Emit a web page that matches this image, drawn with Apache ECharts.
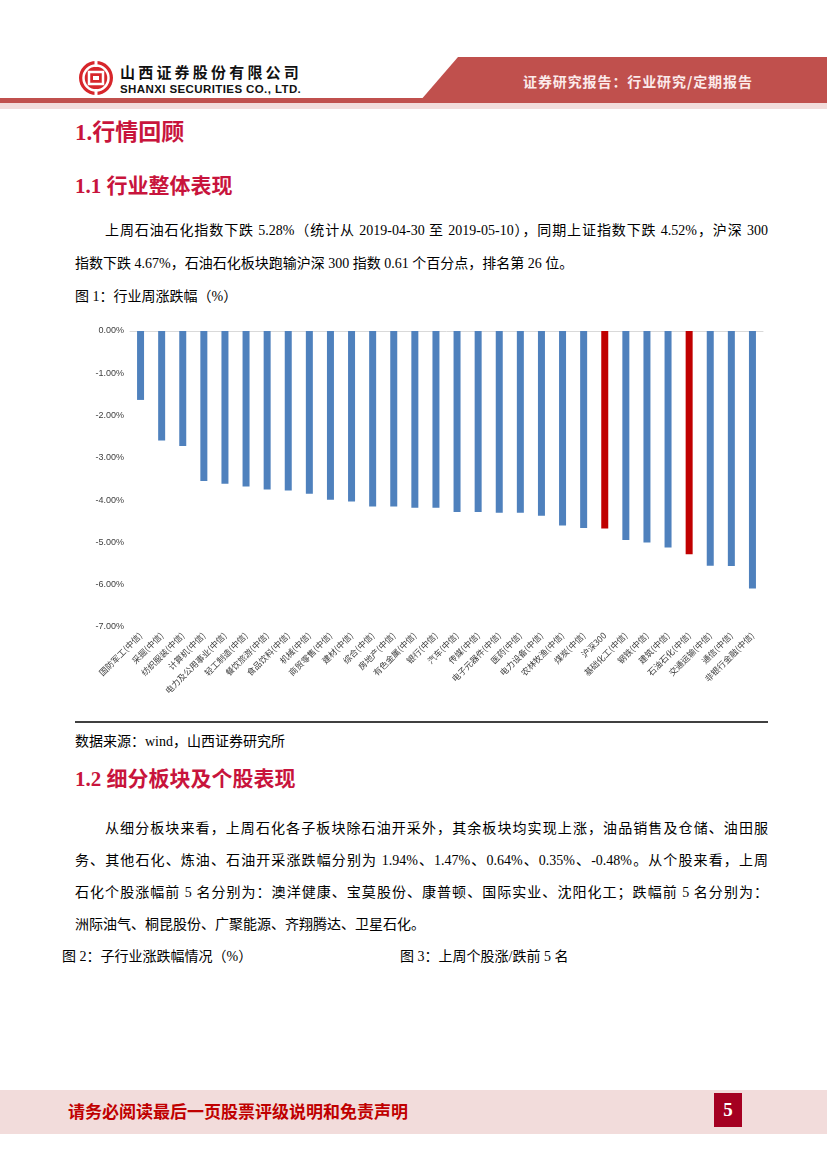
<!DOCTYPE html>
<html><head><meta charset="utf-8">
<script src="https://cdn.jsdelivr.net/npm/echarts@6.0.0/dist/echarts.min.js"></script>
<style>
body{margin:0;background:#fff;}
#page{position:relative;width:827px;height:1169px;overflow:hidden;font-family:"Liberation Serif","Noto Sans CJK SC",serif;color:#000;}
.abs{position:absolute;white-space:nowrap;line-height:1;}
.hd{font-weight:bold;font-size:21px;color:#c8143c;}
.h1{font-size:23px;}
.p{font-size:14px;}
.j{text-align:justify;text-align-last:justify;}
.cap{font-family:"Liberation Serif","Noto Sans CJK SC",sans-serif;font-size:14px;}
</style></head>
<body>
<div id="page">
  <!-- header -->
  <svg class="abs" style="left:78px;top:60px" width="36" height="36" viewBox="0 0 36 36">
    <circle cx="18" cy="18" r="17" fill="#d7262b"/>
    <circle cx="18" cy="18" r="12.5" fill="none" stroke="#fff" stroke-width="2.5"/>
    <rect x="16.5" y="0" width="3" height="7" fill="#fff"/>
    <rect x="16.5" y="29" width="3" height="7" fill="#fff"/>
    <rect x="11" y="12" width="14" height="12" fill="none" stroke="#fff" stroke-width="2.5"/>
    <rect x="15" y="16" width="6" height="4" fill="#fff"/>
  </svg>
  <div class="abs" style="left:120px;top:64px;font-family:'Noto Sans CJK SC';font-weight:bold;font-size:15px;letter-spacing:3.2px;color:#111;">山西证券股份有限公司</div>
  <div class="abs" style="left:120px;top:84px;font-family:'Liberation Sans';font-weight:bold;font-size:11.5px;color:#111;letter-spacing:0.4px;">SHANXI SECURITIES CO., LTD.</div>
  <div class="abs" style="left:420px;top:57px;width:407px;height:44px;background:#c0504d;clip-path:polygon(38px 0,100% 0,100% 100%,0 100%);"></div>
  <div class="abs" style="left:523px;top:74px;font-family:'Noto Sans CJK SC';font-weight:bold;font-size:14px;letter-spacing:0.9px;color:#fbeaea;">证券研究报告：行业研究/定期报告</div>
  <div class="abs" style="left:0;top:98px;width:827px;height:5px;background:#c0504d;"></div>
  <div class="abs" style="left:0;top:103px;width:827px;height:6px;background:#f2dcdb;"></div>

  <div class="abs hd h1" style="left:75px;top:121px;">1.行情回顾</div>
  <div class="abs hd" style="left:75px;top:176px;">1.1 行业整体表现</div>
  <div class="abs p j" style="left:105px;top:224px;width:663px;">上周石油石化指数下跌 5.28%（统计从 2019-04-30 至 2019-05-10），同期上证指数下跌 4.52%，沪深 300</div>
  <div class="abs p" style="left:75px;top:257px;">指数下跌 4.67%，石油石化板块跑输沪深 300 指数 0.61 个百分点，排名第 26 位。</div>
  <div class="abs cap" style="left:75px;top:290px;">图 1：行业周涨跌幅（%）</div>

  <div id="chart" class="abs" style="left:80px;top:315px;width:700px;height:395px;"></div>

  <div class="abs" style="left:75px;top:721px;width:693px;height:2px;background:#404040;"></div>
  <div class="abs cap" style="left:75px;top:735px;">数据来源：wind，山西证券研究所</div>
  <div class="abs hd" style="left:75px;top:769px;">1.2 细分板块及个股表现</div>
  <div class="abs p j" style="left:105px;top:822px;width:663px;">从细分板块来看，上周石化各子板块除石油开采外，其余板块均实现上涨，油品销售及仓储、油田服</div>
  <div class="abs p j" style="left:75px;top:854px;width:693px;">务、其他石化、炼油、石油开采涨跌幅分别为 1.94%、1.47%、0.64%、0.35%、-0.48%。从个股来看，上周</div>
  <div class="abs p j" style="left:75px;top:886px;width:693px;">石化个股涨幅前 5 名分别为：澳洋健康、宝莫股份、康普顿、国际实业、沈阳化工；跌幅前 5 名分别为：</div>
  <div class="abs p" style="left:75px;top:918px;">洲际油气、桐昆股份、广聚能源、齐翔腾达、卫星石化。</div>
  <div class="abs cap" style="left:62px;top:950px;">图 2：子行业涨跌幅情况（%）</div>
  <div class="abs cap" style="left:400px;top:950px;">图 3：上周个股涨/跌前 5 名</div>

  <!-- footer -->
  <div class="abs" style="left:0;top:1090px;width:827px;height:44px;background:#f2dcdb;"></div>
  <div class="abs" style="left:68px;top:1102px;font-family:'Noto Sans CJK SC';font-weight:bold;font-size:17px;color:#c00000;">请务必阅读最后一页股票评级说明和免责声明</div>
  <div class="abs" style="left:714px;top:1093px;width:28px;height:34px;background:#a50021;color:#fff;font-family:'Liberation Serif';font-weight:bold;font-size:19px;line-height:34px;text-align:center;">5</div>
</div>
<script>
const categories = ['国防军工(中信)','采掘(中信)','纺织服装(中信)','计算机(中信)','电力及公用事业(中信)','轻工制造(中信)','餐饮旅游(中信)','食品饮料(中信)','机械(中信)','商贸零售(中信)','建材(中信)','综合(中信)','房地产(中信)','有色金属(中信)','银行(中信)','汽车(中信)','传媒(中信)','电子元器件(中信)','医药(中信)','电力设备(中信)','农林牧渔(中信)','煤炭(中信)','沪深300','基础化工(中信)','钢铁(中信)','建筑(中信)','石油石化(中信)','交通运输(中信)','通信(中信)','非银行金融(中信)'];
const weeklyChange = [-1.63,-2.59,-2.72,-3.55,-3.61,-3.68,-3.75,-3.77,-3.85,-3.99,-4.03,-4.15,-4.15,-4.18,-4.18,-4.28,-4.28,-4.30,-4.30,-4.37,-4.60,-4.66,-4.67,-4.94,-5.00,-5.12,-5.28,-5.55,-5.56,-6.09];
const highlighted = ['沪深300','石油石化(中信)'];
const yTicks = {min:-7, max:0, interval:1};

const chart = echarts.init(document.getElementById('chart'));
chart.setOption({
  animation:false,
  grid:{left:50, right:17, top:16, bottom:83},
  xAxis:[{
    type:'category', data:categories, position:'bottom',
    axisLine:{show:false, onZero:false}, axisTick:{show:false},
    axisLabel:{rotate:45, interval:0, fontSize:8.5, color:'#404040', margin:7, fontFamily:'Noto Sans CJK SC'}
  },{
    type:'category', data:categories, position:'top',
    axisLine:{show:true, lineStyle:{color:'#d9d9d9', width:1}}, axisTick:{show:false}, axisLabel:{show:false}
  }],
  yAxis:{
    type:'value', min:yTicks.min, max:yTicks.max, interval:yTicks.interval,
    axisLine:{show:false}, axisTick:{show:false}, splitLine:{show:false},
    axisLabel:{formatter:v=>v.toFixed(2)+'%', fontSize:9, color:'#404040', margin:6, fontFamily:'Liberation Sans'}
  },
  series:[{
    type:'bar', xAxisIndex:0, data:weeklyChange, barWidth:7,
    itemStyle:{color:p=>highlighted.includes(categories[p.dataIndex])?'#c00000':'#4f81bd'}
  }]
});
</script>
</body></html>
